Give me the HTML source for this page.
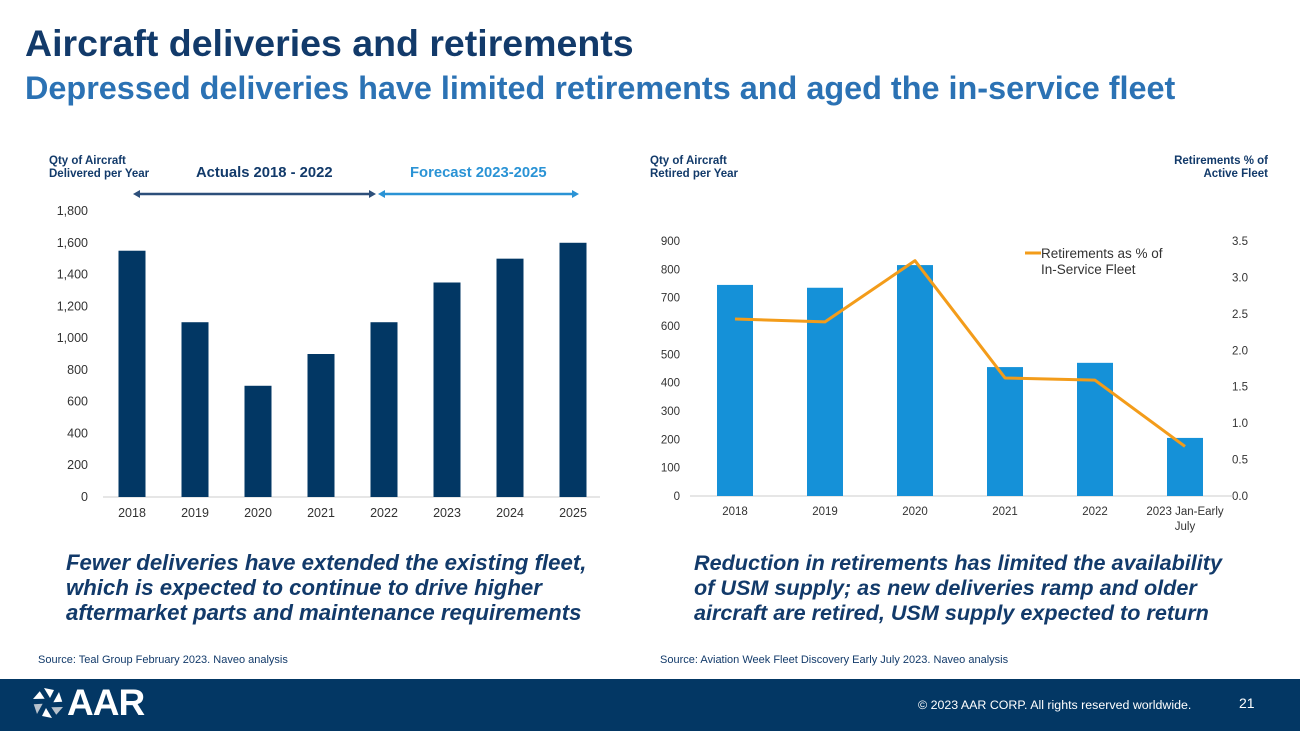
<!DOCTYPE html>
<html><head><meta charset="utf-8"><style>
body{margin:0;width:1300px;height:731px;overflow:hidden;background:#fff;font-family:"Liberation Sans",sans-serif;position:relative}
.a{position:absolute;white-space:nowrap}
</style></head><body>
<div class="a" style="left:25px;top:22px;font-size:37.5px;font-weight:bold;color:#123a6a">Aircraft deliveries and retirements</div>
<div class="a" style="left:25px;top:70px;font-size:32.4px;font-weight:bold;color:#2b72b4">Depressed deliveries have limited retirements and aged the in-service fleet</div>

<svg class="a" style="left:0;top:0" width="1300" height="680" font-family="Liberation Sans, sans-serif">
<g id="left"></g>
<g id="right"></g>
</svg>

<div class="a" style="left:66px;top:550px;font-size:22.2px;font-weight:bold;font-style:italic;color:#123a6a;line-height:25px">Fewer deliveries have extended the existing fleet,<br>which is expected to continue to drive higher<br>aftermarket parts and maintenance requirements</div>
<div class="a" style="left:694px;top:550px;font-size:21.6px;font-weight:bold;font-style:italic;color:#123a6a;line-height:25px">Reduction in retirements has limited the availability<br>of USM supply; as new deliveries ramp and older<br>aircraft are retired, USM supply expected to return</div>
<div class="a" style="left:38px;top:654px;font-size:11px;color:#123a6a">Source: Teal Group February 2023. Naveo analysis</div>
<div class="a" style="left:660px;top:654px;font-size:11px;color:#123a6a">Source: Aviation Week Fleet Discovery Early July 2023. Naveo analysis</div>

<div class="a" style="left:0;top:679px;width:1300px;height:52px;background:#033764"></div>
<svg class="a" style="left:32px;top:687px" width="32" height="32" viewBox="-16 -16 32 32">
<g fill="#fff"><path d="M-4,-15 L6,-13 L2,-5 Z"/><path d="M-4,-15 L6,-13 L2,-5 Z" transform="rotate(60)"/><path d="M-4,-15 L6,-13 L2,-5 Z" transform="rotate(120)" fill="#b8c2cc"/><path d="M-4,-15 L6,-13 L2,-5 Z" transform="rotate(180)"/><path d="M-4,-15 L6,-13 L2,-5 Z" transform="rotate(240)" fill="#b8c2cc"/><path d="M-4,-15 L6,-13 L2,-5 Z" transform="rotate(300)"/></g></svg>
<div class="a" style="left:67px;top:682px;font-size:37px;font-weight:bold;color:#fff;letter-spacing:-1px">AAR</div>
<div class="a" style="left:918px;top:698px;font-size:12.4px;color:#fff">© 2023 AAR CORP. All rights reserved worldwide.</div>
<div class="a" style="left:1239px;top:695px;font-size:14px;color:#fff">21</div>

<script>
const delivCats=["2018","2019","2020","2021","2022","2023","2024","2025"];
const delivVals=[1550,1100,700,900,1100,1350,1500,1600];
const delivTicks=[0,200,400,600,800,1000,1200,1400,1600,1800];
const retCats=["2018","2019","2020","2021","2022","2023 Jan-Early|July"];
const retVals=[745,735,815,455,470,205];
const retPct=[2.43,2.39,3.23,1.62,1.59,0.68];
const retTicksL=[0,100,200,300,400,500,600,700,800,900];
const retTicksR=[0,0.5,1.0,1.5,2.0,2.5,3.0,3.5];

const NS="http://www.w3.org/2000/svg";
function mk(p,t,a,txt){const e=document.createElementNS(NS,t);for(const k in a)e.setAttribute(k,a[k]);if(txt!==undefined)e.textContent=txt;p.appendChild(e);return e;}

// Left chart
const L=document.getElementById('left');
const ly=v=>497-(v/1800)*286;
const lx=i=>132+i*63;
mk(L,'text',{x:49,y:164,'font-size':11.5,'font-weight':'bold',fill:'#123a6a'},'Qty of Aircraft');
mk(L,'text',{x:49,y:177,'font-size':11.5,'font-weight':'bold',fill:'#123a6a'},'Delivered per Year');
mk(L,'text',{x:196,y:177,'font-size':14.8,'font-weight':'bold',fill:'#123a6a'},'Actuals 2018 - 2022');
mk(L,'text',{x:410,y:177,'font-size':14.8,'font-weight':'bold',fill:'#2a93d5'},'Forecast 2023-2025');
mk(L,'line',{x1:136,y1:194,x2:373,y2:194,stroke:'#2d4f7a','stroke-width':2.5});
mk(L,'path',{d:'M133,194 l7,-4 v8 Z M376,194 l-7,-4 v8 Z',fill:'#2d4f7a'});
mk(L,'line',{x1:381,y1:194,x2:576,y2:194,stroke:'#2a93d5','stroke-width':2.5});
mk(L,'path',{d:'M378,194 l7,-4 v8 Z M579,194 l-7,-4 v8 Z',fill:'#2a93d5'});
delivTicks.forEach(t=>{const e=mk(L,'text',{x:88,y:ly(t)+4,'font-size':12.5,fill:'#333','text-anchor':'end'},t.toLocaleString('en-US'));
});
mk(L,'line',{x1:103,y1:497,x2:600,y2:497,stroke:'#ccc','stroke-width':1});
delivVals.forEach((v,i)=>{const r=mk(L,'rect',{x:lx(i)-13.5,y:ly(v),width:27,height:497-ly(v),fill:'#023764'});

mk(L,'text',{x:lx(i),y:517,'font-size':12.5,fill:'#333','text-anchor':'middle'},delivCats[i]);});

// Right chart
const R=document.getElementById('right');
const ry=v=>496-(v/900)*255;
const rpy=v=>496-(v/3.5)*255;
const rx=i=>735+i*90;
mk(R,'text',{x:650,y:164,'font-size':11.5,'font-weight':'bold',fill:'#123a6a'},'Qty of Aircraft');
mk(R,'text',{x:650,y:177,'font-size':11.5,'font-weight':'bold',fill:'#123a6a'},'Retired per Year');
mk(R,'text',{x:1268,y:164,'font-size':11.5,'font-weight':'bold',fill:'#123a6a','text-anchor':'end'},'Retirements % of');
mk(R,'text',{x:1268,y:177,'font-size':11.5,'font-weight':'bold',fill:'#123a6a','text-anchor':'end'},'Active Fleet');
retTicksL.forEach(t=>{const e=mk(R,'text',{x:680,y:ry(t)+4,'font-size':11.5,fill:'#333','text-anchor':'end'},t);
});
retTicksR.forEach(t=>{const e=mk(R,'text',{x:1248,y:rpy(t)+4,'font-size':11.5,fill:'#333','text-anchor':'end'},t.toFixed(1));
});
mk(R,'line',{x1:690,y1:496,x2:1233,y2:496,stroke:'#ccc','stroke-width':1});
retVals.forEach((v,i)=>{const r=mk(R,'rect',{x:rx(i)-18,y:ry(v),width:36,height:496-ry(v),fill:'#1591d8'});

const parts=retCats[i].split('|');parts.forEach((p,j)=>mk(R,'text',{x:rx(i),y:515+j*15,'font-size':11.5,fill:'#333','text-anchor':'middle'},p));});
const pl=mk(R,'polyline',{points:retPct.map((v,i)=>rx(i)+','+rpy(v)).join(' '),fill:'none',stroke:'#f39c1a','stroke-width':3,'stroke-linejoin':'round'});

mk(R,'line',{x1:1025,y1:253,x2:1041,y2:253,stroke:'#f39c1a','stroke-width':3});
mk(R,'text',{x:1041,y:258,'font-size':13.5,fill:'#333'},'Retirements as % of');
mk(R,'text',{x:1041,y:274,'font-size':13.5,fill:'#333'},'In-Service Fleet');
</script>
</body></html>
